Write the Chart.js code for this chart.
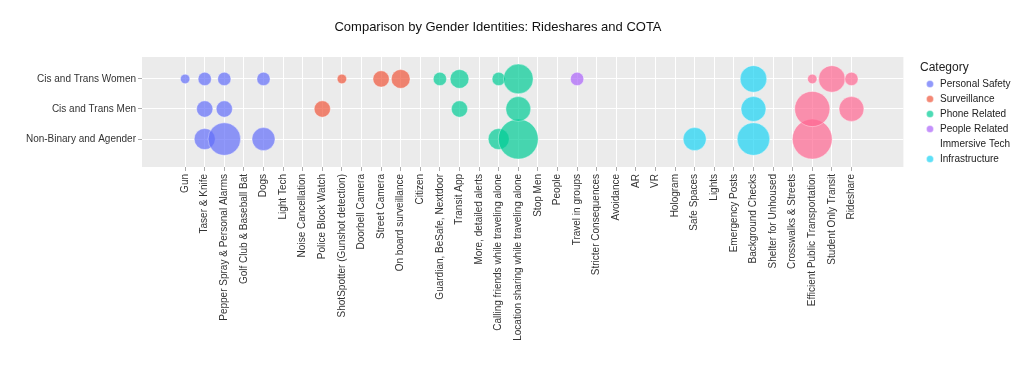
<!DOCTYPE html>
<html>
<head>
<meta charset="utf-8">
<title>Comparison by Gender Identities</title>
<script src="https://cdn.jsdelivr.net/npm/chart.js@4.4.1/dist/chart.umd.min.js"></script>
<style>
    html, body { margin: 0; padding: 0; background: #fff; }
    #wrap { width: 1024px; height: 370px; position: relative; }
</style>
</head>
<body>
<div id="wrap"><canvas id="bolhasGrafico"></canvas></div>
<script>
// x axis categories (answers)
const categorias = [
    'Gun', 'Taser & Knife', 'Pepper Spray & Personal Alarms', 'Golf Club & Baseball Bat', 'Dogs',
    'Light Tech', 'Noise Cancellation', 'Police Block Watch', 'ShotSpotter (Gunshot detection)',
    'Doorbell Camera', 'Street Camera', 'On board surveillance', 'Citizen', 'Guardian, BeSafe, Nextdoor',
    'Transit App', 'More, detailed alerts', 'Calling friends while traveling alone',
    'Location sharing while traveling alone', 'Stop Men', 'People', 'Travel in groups',
    'Stricter Consequences', 'Avoidance', 'AR', 'VR', 'Hologram', 'Safe Spaces', 'Lights',
    'Emergency Posts', 'Background Checks', 'Shelter for Unhoused', 'Crosswalks & Streets',
    'Efficient Public Transportation', 'Student Only Transit', 'Rideshare'
];

// group index of every category (see grupos below)
const grupoDaCategoria = [
    0, 0, 0, 0, 0, 0, 0, 1, 1, 1, 1, 1, 2, 2, 2, 2, 2, 2,
    3, 3, 3, 3, 3, 4, 4, 4, 5, 5, 5, 5, 5, 5, 6, 6, 6
];

const grupos = ['Personal Safety', 'Surveillance', 'Phone Related', 'People Related',
    'Immersive Tech', 'Infrastructure', 'Transportation'];

// y axis, bottom to top
const generos = ['Non-Binary and Agender', 'Cis and Trans Men', 'Cis and Trans Women'];

// number of mentions per category (0 = no bubble)
const mulheres = [1, 2, 2, 0, 2, 0, 0, 0, 1, 0, 3, 4, 0, 2, 4, 0, 2, 10, 0, 0, 2, 0, 0, 0, 0, 0, 0, 0, 0, 8, 0, 0, 1, 8, 2];
const homens = [0, 3, 3, 0, 0, 0, 0, 3, 0, 0, 0, 0, 0, 0, 3, 0, 0, 7, 0, 0, 0, 0, 0, 0, 0, 0, 0, 0, 0, 7, 0, 0, 14, 0, 7];
const naoBinarios = [0, 5, 12, 0, 6, 0, 0, 0, 0, 0, 0, 0, 0, 0, 0, 0, 5, 18, 0, 0, 0, 0, 0, 0, 0, 0, 6, 0, 0, 12, 0, 0, 18, 0, 0];

const cores = ['rgba(99, 110, 250, 0.7)', 'rgba(239, 85, 59, 0.7)', 'rgba(0, 204, 150, 0.7)',
    'rgba(171, 99, 250, 0.7)', 'rgba(0, 0, 0, 0)', 'rgba(25, 211, 243, 0.7)', 'rgba(255, 102, 146, 0.7)'];

// bubble area follows the count
function raio(valor) {
    return 4.7 * Math.sqrt(valor);
}

const linhas = [naoBinarios, homens, mulheres];

const datasets = grupos.map(function (nome, g) {
    const pontos = [];
    linhas.forEach(function (valores, y) {
        valores.forEach(function (v, x) {
            if (v > 0 && grupoDaCategoria[x] === g) {
                pontos.push({ x: x, y: y, r: raio(v) });
            }
        });
    });
    return {
        label: nome,
        data: pontos,
        backgroundColor: cores[g],
        borderColor: g === 4 ? 'rgba(0, 0, 0, 0)' : 'rgba(255, 255, 255, 0.6)',
        borderWidth: 0.6
    };
});

// grey panel behind the plot
const fundoPainel = {
    id: 'fundoPainel',
    beforeDraw(chart) {
        const a = chart.chartArea;
        const ctx = chart.ctx;
        ctx.save();
        ctx.fillStyle = '#ebebeb';
        ctx.fillRect(a.left, a.top, a.right - a.left, a.bottom - a.top);
        ctx.restore();
    }
};

// move the legend a little away from the panel
const legendaDeslocada = {
    id: 'legendaDeslocada',
    afterLayout(chart) {
        const dx = 920 - chart.legend.left;
        chart.legend.left += dx;
        chart.legend.right += dx;
    }
};

// title, centred a bit left of the page middle like the original
const titulo = {
    id: 'titulo',
    afterDraw(chart) {
        const ctx = chart.ctx;
        ctx.save();
        ctx.font = '13px "Liberation Sans", Arial, sans-serif';
        ctx.fillStyle = '#111';
        ctx.textAlign = 'center';
        ctx.textBaseline = 'middle';
        ctx.fillText('Comparison by Gender Identities: Rideshares and COTA', 498, 27);
        ctx.restore();
    }
};

Chart.defaults.font.family = '"Liberation Sans", Arial, sans-serif';

const ctxBolhas = document.getElementById('bolhasGrafico').getContext('2d');
new Chart(ctxBolhas, {
    type: 'bubble',
    data: { datasets: datasets },
    plugins: [fundoPainel, legendaDeslocada, titulo],
    options: {
        responsive: true,
        maintainAspectRatio: false,
        animation: false,
        layout: { padding: { top: 57, left: 0, right: 20, bottom: 0 } },
        scales: {
            x: {
                type: 'linear',
                min: -2.2,
                max: 36.65,
                afterBuildTicks: function (scale) {
                    scale.ticks = categorias.map(function (c, i) { return { value: i }; });
                },
                afterFit: function (scale) {
                    scale.height = 203;
                },
                ticks: {
                    autoSkip: false,
                    minRotation: 90,
                    maxRotation: 90,
                    padding: 3,
                    color: '#333',
                    font: { size: 10 },
                    callback: function (v) { return categorias[v]; }
                },
                grid: { color: '#ffffff', lineWidth: 1, tickColor: '#aaaaaa', tickLength: 4 },
                border: { display: false }
            },
            y: {
                type: 'linear',
                min: -0.93,
                max: 2.73,
                afterBuildTicks: function (scale) {
                    scale.ticks = generos.map(function (g, i) { return { value: i }; });
                },
                afterFit: function (scale) {
                    scale.width = 142;
                },
                ticks: {
                    padding: 2,
                    color: '#333',
                    font: { size: 10 },
                    callback: function (v) { return generos[v]; }
                },
                grid: { color: '#ffffff', lineWidth: 1, tickColor: '#aaaaaa', tickLength: 4 },
                border: { display: false }
            }
        },
        plugins: {
            legend: {
                position: 'right',
                align: 'start',
                title: {
                    display: true,
                    text: 'Category',
                    position: 'start',
                    color: '#222',
                    font: { size: 12, lineHeight: 1 },
                    padding: { top: 5, bottom: 0 }
                },
                labels: {
                    usePointStyle: true,
                    pointStyle: 'circle',
                    boxWidth: 10,
                    boxHeight: 5,
                    padding: 5,
                    color: '#222',
                    font: { size: 10 },
                    filter: function (item) { return item.text !== 'Transportation'; }
                }
            },
            tooltip: { enabled: false }
        }
    }
});
</script>
</body>
</html>
